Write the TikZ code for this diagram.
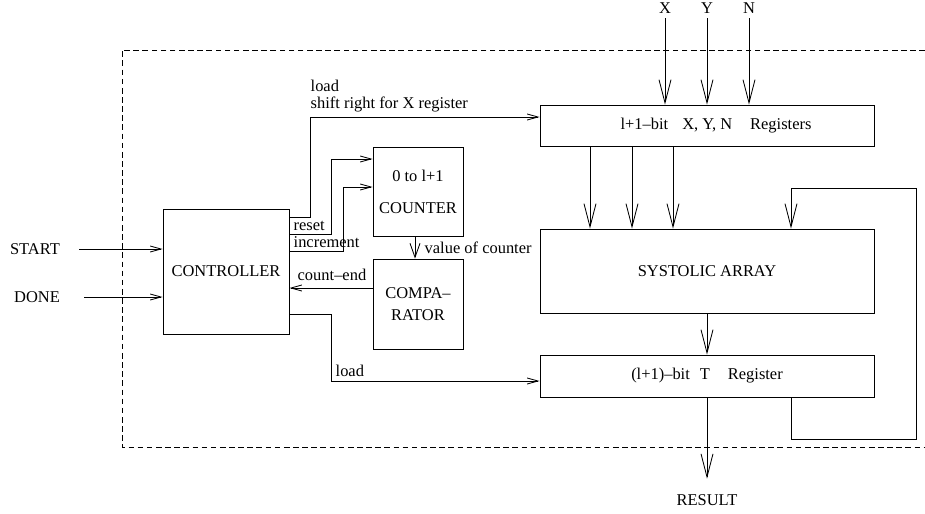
\documentclass[tikz,border=0pt]{standalone}
\usepackage{fontspec}
\setmainfont{Liberation Serif}
\usetikzlibrary{arrows.meta, positioning}

\begin{document}
\begin{tikzpicture}[
    x=0.025cm, y=-0.025cm,
    every node/.style={font=\fontsize{11.7}{14}\selectfont},
    box/.style={rectangle, draw, line width=0.6pt, inner sep=0pt, align=center},
    arrow/.style={-{Straight Barb[length=0.27cm, width=0.15cm]}, line width=0.6pt},
    midarrow/.style={-{Straight Barb[length=0.35cm, width=0.25cm]}, line width=0.6pt},
    bigarrow/.style={-{Straight Barb[length=0.58cm, width=0.3cm]}, line width=0.6pt},
    sig/.style={anchor=west, inner sep=1pt},
    frame/.style={dash pattern=on 4pt off 2.5pt, line width=0.5pt}
]
    \useasboundingbox (0,0) rectangle (925,513);

    % Chip border
    \draw[frame] (925,50) -- (122,50) -- (122,447) -- (925,447);

    % Control part
    \node[box, minimum width=3.15cm, minimum height=3.125cm] (ctrl) at (226,271.5) {CONTROLLER};
    \node[box, minimum width=2.25cm, minimum height=2.225cm] (cnt) at (418,191.5) {0 to l+1\\[8.7pt]COUNTER};
    \node[box, minimum width=2.25cm, minimum height=2.25cm] (cmp) at (418,304) {COMPA--\\[2pt]RATOR};

    % Data part
    \node[box, minimum width=8.35cm, minimum height=1.025cm] (regs) at (707,125.5) {\hspace{0.45cm}l+1--bit\hspace{0.35cm}X, Y, N\hspace{0.45cm}Registers};
    \node[box, minimum width=8.35cm, minimum height=2.1cm] (sys) at (707,271) {SYSTOLIC ARRAY};
    \node[box, minimum width=8.35cm, minimum height=1.05cm] (treg) at (707,376) {(l+1)--bit\hspace{0.25cm}T\hspace{0.45cm}Register};

    % Inputs and output
    \node (start) at (35,249) {START};
    \node (done) at (37,297) {DONE};
    \node (inX) at (665,8) {X};
    \node (inY) at (707,8) {Y};
    \node (inN) at (749,8) {N};
    \node (res) at (707,500) {RESULT};

    % Control signals
    \draw[arrow] ([xshift=0.36cm]start.east) -- (start -| ctrl.west);
    \draw[arrow] ([xshift=0.49cm]done.east) -- (done -| ctrl.west);
    \draw[arrow] (ctrl.east |- 0,217) -- (310,217) |- (regs.west |- 0,117);
    \draw[arrow] (ctrl.east |- 0,234) -- (331,234) |- (cnt.west |- 0,159);
    \draw[arrow] (ctrl.east |- 0,251) -- (343,251) |- (cnt.west |- 0,187);
    \draw[arrow] (cmp.west |- 0,288) -- (ctrl.east |- 0,288);
    \draw[arrow] (ctrl.east |- 0,314) -- (331,314) |- (treg.west |- 0,381);
    \draw[midarrow] (cnt.south -| 415,0) -- (cmp.north -| 415,0);

    \node[sig, align=left] at (309,96) {load\\[-2pt]shift right for X register};
    \node[sig] at (292,226) {reset};
    \node[sig] at (292,242) {increment};
    \node[sig] at (296,275) {count--end};
    \node[sig] at (423,248) {value of counter};
    \node[sig] at (334,371) {load};

    % Data paths
    \draw[bigarrow] (inX) -- (inX |- regs.north);
    \draw[bigarrow] (inY) -- (inY |- regs.north);
    \draw[bigarrow] (inN) -- (inN |- regs.north);
    \foreach \x in {590,632,673}
        \draw[bigarrow] (regs.south -| \x,0) -- (sys.north -| \x,0);
    \draw[bigarrow] (sys) -- (treg);
    \draw[bigarrow, shorten >=0.27cm] (treg) -- (res);
    % \draw[bigarrow] (treg) -- (res);

    % Feedback of T
    \draw[bigarrow] (treg.south -| 791,0) |- (916,439) -- (916,188) -| (sys.north -| 791,0);
\end{tikzpicture}
\end{document}
